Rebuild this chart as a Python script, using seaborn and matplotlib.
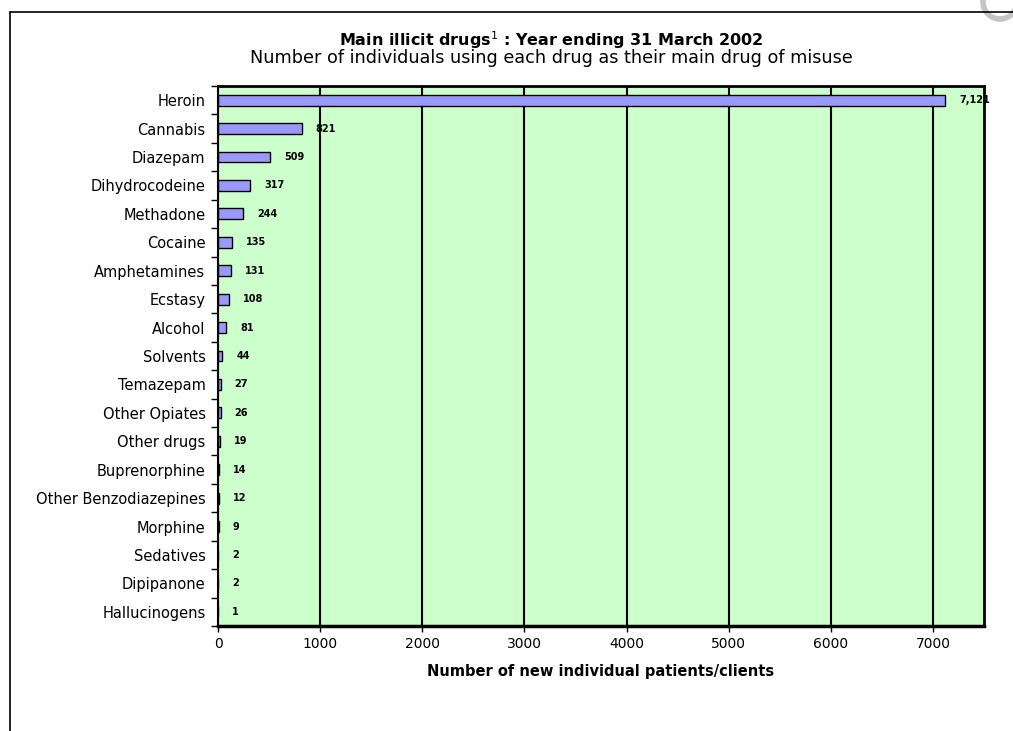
import numpy as np
import pandas as pd
import matplotlib.pyplot as plt
import seaborn as sns
from matplotlib.lines import Line2D
from matplotlib.patches import Circle

# Data
drugs = ['Heroin', 'Cannabis', 'Diazepam', 'Dihydrocodeine', 'Methadone',
         'Cocaine', 'Amphetamines', 'Ecstasy', 'Alcohol', 'Solvents',
         'Temazepam', 'Other Opiates', 'Other drugs', 'Buprenorphine',
         'Other Benzodiazepines', 'Morphine', 'Sedatives', 'Dipipanone',
         'Hallucinogens']
counts = [7121, 821, 509, 317, 244, 135, 131, 108, 81, 44,
          27, 26, 19, 14, 12, 9, 2, 2, 1]
x_ticks = [0, 1000, 2000, 3000, 4000, 5000, 6000, 7000]

df = pd.DataFrame({'drug': drugs, 'count': counts})

sns.set_theme(style='ticks', rc={'axes.facecolor': '#CCFFCC',
                                 'text.color': 'black',
                                 'axes.labelcolor': 'black',
                                 'xtick.color': 'black',
                                 'ytick.color': 'black'})
plt.rcParams['font.family'] = ['DejaVu Sans']

fig = plt.figure(figsize=(10.13, 7.31), dpi=100)
ax = fig.add_axes([218/1013, 1-626/731, 766/1013, 540/731])

# gridlines behind the bars
ax.set_axisbelow(True)
ax.xaxis.grid(True, color='black', linewidth=1.5)

sns.barplot(data=df, x='count', y='drug', orient='h', color='#9999FF',
            saturation=1, edgecolor='black', linewidth=1, width=0.38, ax=ax)

# value labels
for p, v in zip(ax.patches, counts):
    ax.annotate(f'{v:,}', (p.get_width(), p.get_y() + p.get_height()/2),
                xytext=(10, 0), textcoords='offset points', ha='left',
                va='center', fontsize=7, fontweight='bold', color='black',
                annotation_clip=False)

ax.set_xlim(0, 7500)
ax.set_xticks(x_ticks)
ax.set_xticklabels([str(t) for t in x_ticks], fontsize=10)
ax.tick_params(axis='x', length=4, width=1, pad=4)

# Excel-style ticks between the categories
ax.set_yticks(np.arange(-0.5, len(drugs), 1), minor=True)
ax.tick_params(axis='y', which='major', length=0, pad=9, labelsize=10.5)
ax.tick_params(axis='y', which='minor', length=5, width=1)

ax.set_ylabel('')
ax.set_xlabel('Number of new individual patients/clients', fontsize=10.5,
              fontweight='bold', labelpad=9)

for side, lw in [('left', 1.5), ('bottom', 2.5), ('top', 2), ('right', 2)]:
    ax.spines[side].set_visible(True)
    ax.spines[side].set_color('black')
    ax.spines[side].set_linewidth(lw)

# titles
fig.text(0.544, 1-40/731, 'Main illicit drugs$^1$ : Year ending 31 March 2002',
         ha='center', va='center', fontsize=11.5, fontweight='bold')
fig.text(0.544, 1-58/731, 'Number of individuals using each drug as their main drug of misuse',
         ha='center', va='center', fontsize=12.7)

# outer frame of the page box
fig.add_artist(Line2D([10/1013, 10/1013], [0, 1-12/731], color='black', linewidth=1.2))
fig.add_artist(Line2D([10/1013, 1], [1-12/731, 1-12/731], color='black', linewidth=1.2))

# partial logo ring at the top right
fig.add_artist(Circle((10.0, 7.29), 0.17, transform=fig.dpi_scale_trans,
                      fill=False, edgecolor='#c4c4c4', linewidth=4))

fig.savefig('out.png', dpi=100, facecolor='white')
